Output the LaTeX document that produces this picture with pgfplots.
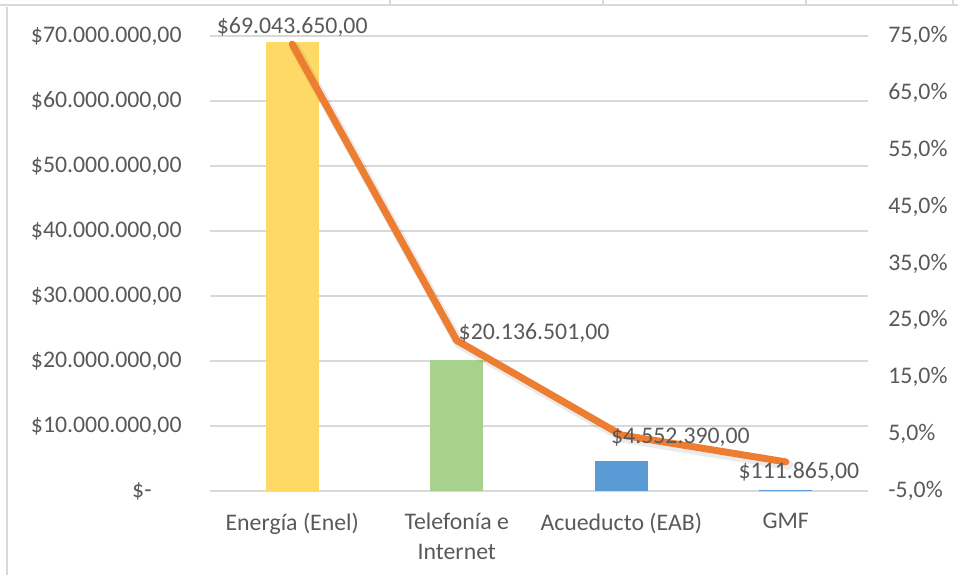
\documentclass[border=0pt]{standalone}
\usepackage{pgfplots}
\pgfplotsset{compat=1.18}
\usepackage{fontspec}
\setmainfont{Carlito}
\definecolor{txt}{HTML}{595959}
\definecolor{gridc}{HTML}{D9D9D9}
\definecolor{cY}{HTML}{FFD966}
\definecolor{cG}{HTML}{A9D18E}
\definecolor{cB}{HTML}{5B9BD5}
\definecolor{cO}{HTML}{ED7D31}
\begin{document}
\begin{tikzpicture}[font=\fontsize{11.9}{14.5}\selectfont]
\useasboundingbox (0,0) rectangle (479pt,287.5pt);
\draw[gridc, line width=0.7pt] (3.5pt,0) -- (3.5pt,284pt);
\draw[gridc, line width=0.7pt] (0,285pt) -- (479pt,285pt);
\foreach \xx in {195pt,301.5pt,403pt,476.5pt}{\draw[gridc, line width=0.7pt] (\xx,285pt) -- (\xx,287.5pt);}
\begin{axis}[
  at={(105pt,42pt)}, anchor=south west,
  scale only axis, width=329pt, height=227.5pt,
  xmin=-0.5, xmax=3.5, ymin=0, ymax=70000000,
  clip=false,
  axis line style={draw=none},
  major tick length=0pt, tick style={draw=none},
  ymajorgrids, grid style={gridc, line width=0.8pt},
  ytick={0,10000000,20000000,30000000,40000000,50000000,60000000,70000000},
  yticklabels={{\$-\phantom{,00}},{\$10.000.000,00},{\$20.000.000,00},{\$30.000.000,00},{\$40.000.000,00},{\$50.000.000,00},{\$60.000.000,00},{\$70.000.000,00}},
  yticklabel style={anchor=east, inner sep=0pt, xshift=-14pt, text=txt},
  xtick={0,1,2,3},
  xticklabels={{Energía (Enel)},{Telefonía e\\Internet},{Acueducto (EAB)},{GMF}},
  xticklabel style={anchor=north, align=center, inner sep=0pt, yshift=-11pt, text=txt, font=\fontsize{11.9}{15}\selectfont},
  scaled y ticks=false,
]
\addplot[ybar, bar width=0.32, bar shift=0pt, fill=cY, draw=none] coordinates {(0,69043650)};
\addplot[ybar, bar width=0.32, bar shift=0pt, fill=cG, draw=none] coordinates {(1,20136501)};
\addplot[ybar, bar width=0.32, bar shift=0pt, fill=cB, draw=none] coordinates {(2,4552390)};
\addplot[ybar, bar width=0.32, bar shift=0pt, fill=cB, draw=none] coordinates {(3,111865)};
\end{axis}
\begin{axis}[
  at={(105pt,42pt)}, anchor=south west,
  scale only axis, width=329pt, height=227.5pt,
  xmin=-0.5, xmax=3.5, ymin=-5, ymax=75,
  clip=false,
  axis line style={draw=none},
  major tick length=0pt, tick style={draw=none},
  xtick=\empty,
  ytick={-5,5,15,25,35,45,55,65,75},
  yticklabels={{-5,0\%},{5,0\%},{15,0\%},{25,0\%},{35,0\%},{45,0\%},{55,0\%},{65,0\%},{75,0\%}},
  yticklabel pos=right,
  yticklabel style={anchor=west, inner sep=0pt, xshift=10pt, text=txt},
]
\addplot[black, opacity=0.08, line width=5pt, line cap=round, line join=round, shift={(1.2pt,-1.5pt)}] coordinates {(0,73.57)(1,21.46)(2,4.85)(3,0.12)};
\addplot[cO, line width=3.5pt, line cap=round, line join=round] coordinates {(0,73.57)(1,21.46)(2,4.85)(3,0.12)};
\end{axis}
\begin{axis}[
  at={(105pt,42pt)}, anchor=south west,
  scale only axis, width=329pt, height=227.5pt,
  xmin=-0.5, xmax=3.5, ymin=0, ymax=70000000,
  clip=false, hide axis,
]
\node[text=txt] at (axis cs:0,71400000) {\$69.043.650,00};
\node[text=txt] at (axis cs:1.47,24300000) {\$20.136.501,00};
\node[text=txt] at (axis cs:2.36,8300000) {\$4.552.390,00};
\node[text=txt] at (axis cs:3.08,2900000) {\$111.865,00};
\end{axis}
\end{tikzpicture}
\end{document}
